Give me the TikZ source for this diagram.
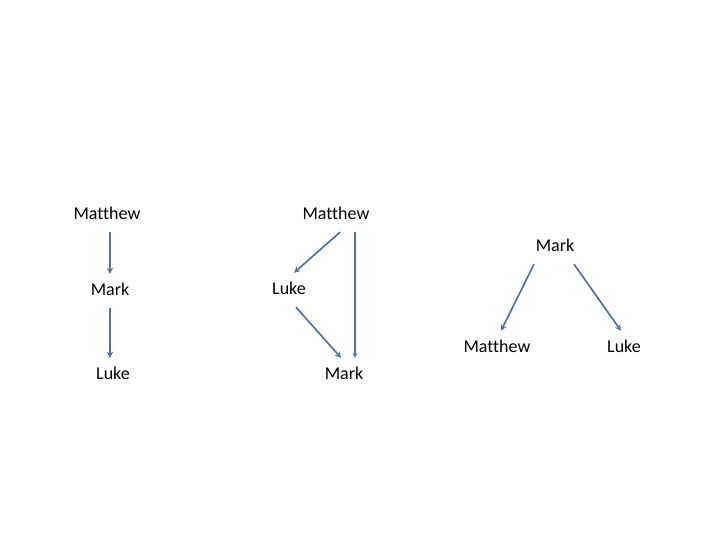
\documentclass[tikz,border=0pt]{standalone}
\usepackage{fontspec}
\setmainfont{Carlito}[Ligatures=NoCommon]
\usepackage{tikz}
\usetikzlibrary{arrows}
\definecolor{linkblue}{RGB}{76,116,166}
\tikzstyle{gospel} = [text height=12pt, text depth=3pt, inner xsep=2pt, inner ysep=9.5pt, font=\fontsize{18}{21}\selectfont]
\tikzstyle{arrow} = [draw=linkblue, line width=1.7pt, ->, >=stealth]
\tikzstyle{thinarrow} = [draw=linkblue, line width=1.1pt, ->, >=stealth]

\begin{document}
\begin{tikzpicture}[x=1pt, y=1pt]
        \useasboundingbox (0,0) rectangle (720,540);
        % first order: Matthew, Mark, Luke
        \node (matthew-a) [gospel] at (107,325) {Matthew};
        \node (mark-a) [gospel] at (110,249) {Mark};
        \node (luke-a) [gospel] at (113,165) {Luke};
        % second order
        \node (matthew-b) [gospel] at (336,325) {Matthew};
        \node (luke-b) [gospel] at (289,250) {Luke};
        \node (mark-b) [gospel] at (344,165) {Mark};
        % third order
        \node (mark-c) [gospel] at (555,293) {Mark};
        \node (matthew-c) [gospel] at (497,192) {Matthew};
        \node (luke-c) [gospel] at (624,192) {Luke};

        \draw [arrow] (matthew-a.south -| mark-a) -- (mark-a.north);
        \draw [arrow] (mark-a.south) -- (luke-a.north -| mark-a);
        \draw [arrow] ([xshift=4pt]matthew-b.south) -- ([xshift=5pt]luke-b.north);
        \draw [arrow] ([xshift=7pt]luke-b.south) -- ([xshift=-3pt]mark-b.north);
        \draw [thinarrow] ([xshift=19pt]matthew-b.south) -- ([xshift=11pt]mark-b.north);
        \draw [arrow] ([xshift=-21pt]mark-c.south) -- ([xshift=4pt]matthew-c.north);
        \draw [arrow] ([xshift=19pt]mark-c.south) -- ([xshift=-3pt]luke-c.north);
    \end{tikzpicture}
\end{document}
